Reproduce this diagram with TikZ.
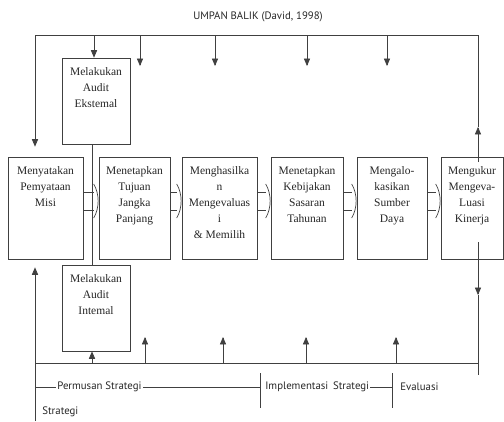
\documentclass[tikz,border=0pt]{standalone}
\usepackage{fontspec}
\setmainfont{Liberation Serif}
\setsansfont{PT Sans}
\usetikzlibrary{arrows,calc}

\tikzset{
	kotak/.style={draw, inner sep=0pt, minimum height=102pt},
	isi/.style={anchor=north, align=center, inner sep=0pt, text=black!85,
		font=\fontsize{11.5}{15.8}\selectfont},
	ket/.style={inner sep=1pt, text=black!85, font=\sffamily\fontsize{10.8}{13}\selectfont},
}

% panah blok antar kotak
\newcommand{\panahblok}[2]{
	\draw ($(#1.east)+(0,-16)$) -- ($(#2.west)+(-5,-16)$);
	\draw ($(#1.east)+(0,2)$) -- ($(#2.west)+(-5,2)$);
	\draw ($(#2.west)+(-5,-24)$) .. controls ($(#2.west)+(1,-14)$) and ($(#2.west)+(1,0)$) .. ($(#2.west)+(-5,10)$);
}

\begin{document}
\begin{tikzpicture}
	[x=1pt,y=-1pt,>=triangle 45,line width=.7pt,draw=black!75]
	\useasboundingbox (0,0) rectangle (504,421);

	\node[ket] (judul) at (258,17) {UMPAN BALIK (David, 1998)};

	% kotak utama
	\node[kotak, minimum width=75pt] (misi) at (45.5,208) {};
	\node[kotak, minimum width=71pt] (tujuan) at (134.5,208) {};
	\node[kotak, minimum width=75pt] (hasil) at (219.5,208) {};
	\node[kotak, minimum width=72pt] (sasaran) at (307,208) {};
	\node[kotak, minimum width=70pt] (sumber) at (392,208) {};
	\node[kotak, minimum width=62pt] (ukur) at (472,208) {};
	\node[kotak, minimum width=68pt, minimum height=86pt] (ekst) at (96,101) {};
	\node[kotak, minimum width=68pt, minimum height=86pt] (intern) at (96,308) {};

	\node[isi] (misi-t) at ($(misi.north)+(0,10)$) {Menyatakan\\Pemyataan\\Misi};
	\node[isi] (tujuan-t) at ($(tujuan.north)+(0,10)$) {Menetapkan\\Tujuan\\Jangka\\Panjang};
	\node[isi] (hasil-t) at ($(hasil.north)+(0,10)$) {Menghasilka\\n\\Mengevaluas\\i\\\& Memilih};
	\node[isi] (sasaran-t) at ($(sasaran.north)+(0,10)$) {Menetapkan\\Kebijakan\\Sasaran\\Tahunan};
	\node[isi] (sumber-t) at ($(sumber.north)+(0,10)$) {Mengalo-\\kasikan\\Sumber\\Daya};
	\node[isi] (ukur-t) at ($(ukur.north)+(0,10)$) {Mengukur\\Mengeva-\\Luasi\\Kinerja};
	\node[isi] (ekst-t) at ($(ekst.north)+(0,10)$) {Melakukan\\Audit\\Ekstemal};
	\node[isi] (intern-t) at ($(intern.north)+(0,10)$) {Melakukan\\Audit\\Intemal};

	\panahblok{misi}{tujuan}
	\panahblok{tujuan}{hasil}
	\panahblok{hasil}{sasaran}
	\panahblok{sasaran}{sumber}
	\panahblok{sumber}{ukur}

	% umpan balik atas
	\coordinate (atas-kiri) at (35,35);
	\coordinate (atas-kanan) at (478,35);
	\coordinate (uk-atas) at (478,162);
	\coordinate (uk-panah) at (478,127);
	\draw[->] (uk-atas) -- (uk-panah);
	\draw (uk-panah) -- (atas-kanan) -- (atas-kiri);
	\draw[->, shorten >=10pt] (atas-kiri) -- (atas-kiri |- misi.north);
	\draw[->] (atas-kiri -| 94,0) -- (94,0 |- ekst.north);
	\foreach \x/\n in {140/a,215/b,307/c,387/d}{
		\coordinate (t\n) at (\x,66);
		\draw[->] (t\n |- atas-kiri) -- (t\n);
	}

	\draw (ekst.south -| 92,0) -- (intern.north -| 92,0);

	% umpan balik bawah
	\coordinate (bawah-kiri) at (35,363);
	\coordinate (bawah-kanan) at (478,363);
	\coordinate (kiri-ujung) at (35,421);
	\coordinate (uk-bawah) at (478,242);
	\coordinate (uk-panah2) at (478,295);
	\coordinate (kanan-ujung) at (478,375);
	\draw (bawah-kiri) -- (bawah-kanan);
	\draw[->, shorten >=8pt] (kiri-ujung) -- (kiri-ujung |- misi.south);
	\draw[->] (uk-bawah) -- (uk-panah2);
	\draw (uk-panah2) -- (kanan-ujung);
	\draw[->] (bawah-kiri -| 92,0) -- (92,0 |- intern.south);
	\foreach \x/\n in {145/a,223/b,306/c,396/d}{
		\coordinate (b\n) at (\x,337);
		\draw[->] (b\n |- bawah-kiri) -- (b\n);
	}

	% tahap strategi
	\node[ket, anchor=west] (rumus) at (56,387) {Permusan Strategi};
	\node[ket, anchor=west] (impl) at (264,387) {Implementasi\, Strategi};
	\node[ket, anchor=west] (eval) at (399,387) {Evaluasi};
	\node[ket, anchor=west] (strat) at (41,412) {Strategi};
	\coordinate (tik1) at (260,373);
	\coordinate (tik2) at (392,373);
	\draw (bawah-kiri |- rumus) -- (rumus.west);
	\draw (rumus.east) -- (tik1 |- rumus);
	\draw (impl.east) -- (tik2 |- impl);
	\draw (tik1) -- ++(0,35);
	\draw (tik2) -- ++(0,35);
\end{tikzpicture}
\end{document}
